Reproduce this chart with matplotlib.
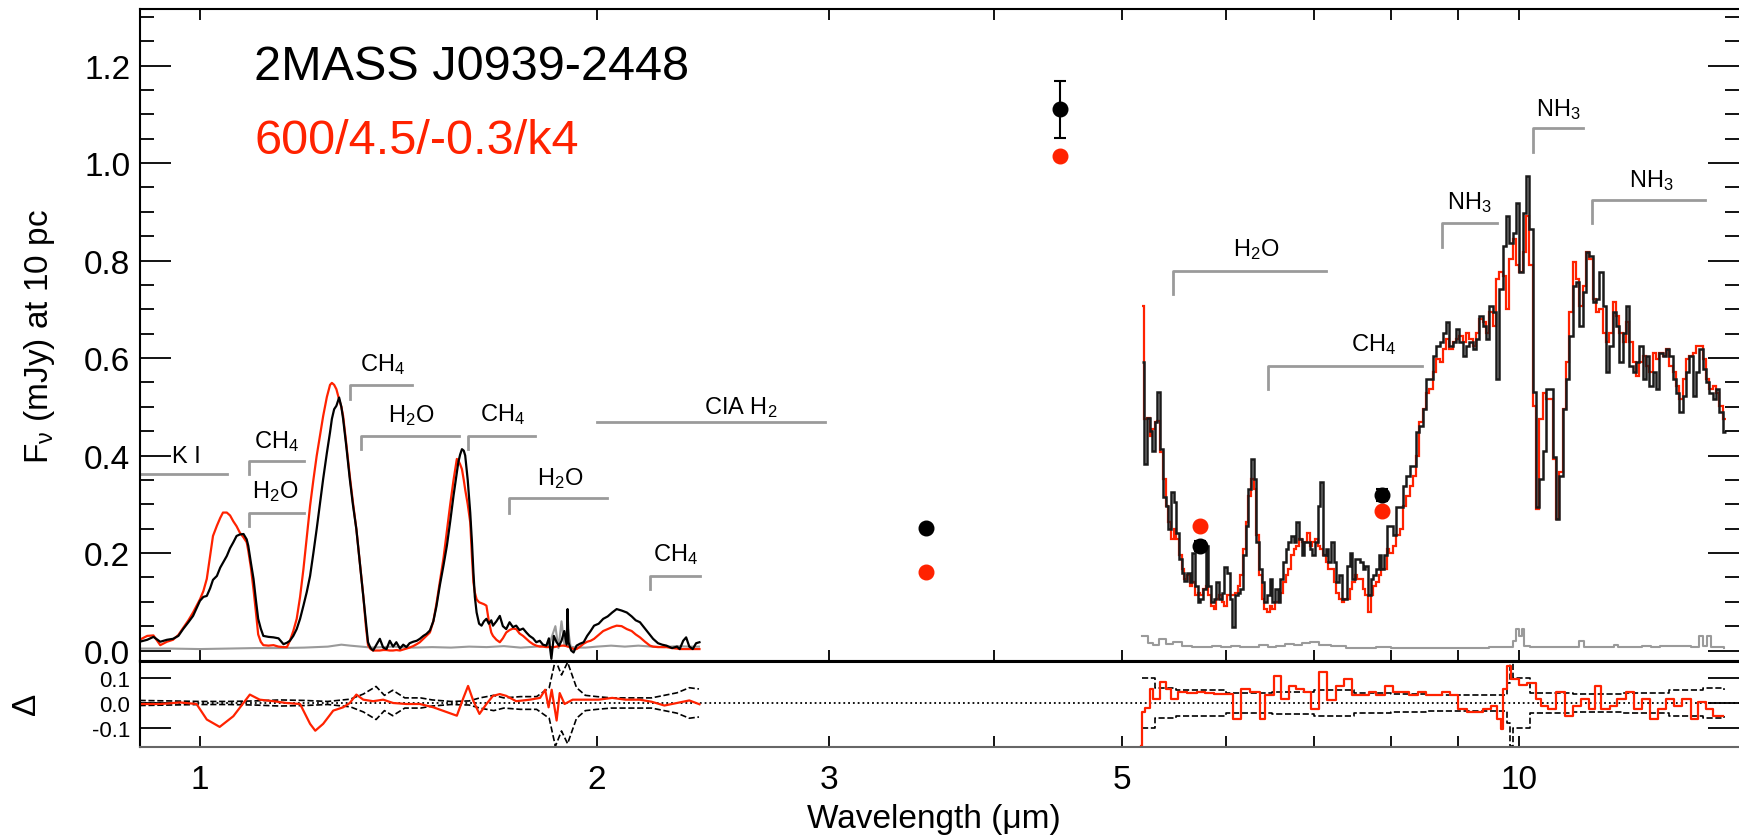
import matplotlib.pyplot as plt
import numpy as np
from matplotlib.ticker import FixedLocator, FixedFormatter, MultipleLocator, NullLocator

plt.rcParams['font.family'] = ['Liberation Sans', 'DejaVu Sans']
plt.rcParams['mathtext.fontset'] = 'custom'
plt.rcParams['mathtext.rm'] = 'Liberation Sans'
plt.rcParams['mathtext.it'] = 'Liberation Sans:italic'
plt.rcParams['mathtext.bf'] = 'Liberation Sans:bold'
plt.rcParams['mathtext.default'] = 'regular'

RED = '#ff2200'
GREY = '#9a9a9a'

# near-infrared prism spectrum (um, mJy) and best-fit model
nir_wave = [0.900, 0.912, 0.922, 0.933, 0.944, 0.954, 0.963, 0.971, 0.980, 0.988,
            1.000, 1.006, 1.012, 1.018, 1.023, 1.030, 1.036, 1.041, 1.048, 1.054,
            1.060, 1.066, 1.072, 1.079, 1.085, 1.088, 1.093, 1.098, 1.103, 1.107,
            1.112, 1.117, 1.127, 1.137, 1.147, 1.157, 1.164, 1.170, 1.177, 1.184,
            1.191, 1.198, 1.205, 1.212, 1.219, 1.226, 1.233, 1.240, 1.248, 1.255,
            1.259, 1.264, 1.269, 1.275, 1.280, 1.284, 1.291, 1.299, 1.306, 1.314,
            1.322, 1.330, 1.336, 1.341, 1.347, 1.353, 1.361, 1.369, 1.377, 1.385,
            1.393, 1.401, 1.409, 1.418, 1.426, 1.434, 1.442, 1.451, 1.460, 1.468,
            1.477, 1.485, 1.494, 1.503, 1.511, 1.520, 1.530, 1.539, 1.548, 1.557,
            1.566, 1.570, 1.575, 1.580, 1.585, 1.589, 1.596, 1.603, 1.608, 1.612,
            1.616, 1.621, 1.628, 1.635, 1.642, 1.649, 1.656, 1.663, 1.668, 1.678,
            1.688, 1.697, 1.707, 1.717, 1.727, 1.737, 1.747, 1.758, 1.768, 1.778,
            1.789, 1.799, 1.810, 1.820, 1.831, 1.839, 1.847, 1.855, 1.864, 1.872,
            1.880, 1.889, 1.897, 1.900, 1.903, 1.912, 1.920, 1.930, 1.942, 1.954,
            1.966, 1.978, 1.990, 2.006, 2.022, 2.038, 2.054, 2.070, 2.088, 2.107,
            2.125, 2.140, 2.156, 2.175, 2.194, 2.206, 2.225, 2.241, 2.258, 2.280,
            2.300, 2.311, 2.325, 2.337, 2.350, 2.364, 2.378, 2.392]
nir_data = [0.018, 0.022, 0.028, 0.018, 0.022, 0.024, 0.030, 0.044, 0.058, 0.071,
            0.102, 0.110, 0.112, 0.128, 0.145, 0.153, 0.170, 0.180, 0.194, 0.210,
            0.222, 0.235, 0.238, 0.239, 0.228, 0.215, 0.180, 0.147, 0.100, 0.065,
            0.045, 0.030, 0.028, 0.027, 0.025, 0.013, 0.016, 0.020, 0.030, 0.044,
            0.065, 0.092, 0.120, 0.153, 0.200, 0.249, 0.300, 0.352, 0.405, 0.448,
            0.475, 0.495, 0.502, 0.519, 0.500, 0.475, 0.420, 0.352, 0.300, 0.249,
            0.180, 0.112, 0.060, 0.017, 0.005, 0.000, 0.012, 0.024, 0.006, 0.003,
            0.020, 0.008, 0.017, 0.004, 0.012, 0.007, 0.015, 0.018, 0.020, 0.024,
            0.030, 0.034, 0.041, 0.060, 0.090, 0.133, 0.175, 0.215, 0.265, 0.318,
            0.365, 0.386, 0.402, 0.413, 0.410, 0.400, 0.350, 0.283, 0.220, 0.160,
            0.110, 0.078, 0.055, 0.051, 0.060, 0.065, 0.055, 0.062, 0.051, 0.060,
            0.071, 0.050, 0.044, 0.058, 0.048, 0.051, 0.042, 0.045, 0.037, 0.030,
            0.025, 0.017, 0.020, 0.012, 0.010, 0.025, -0.017, 0.030, 0.017, 0.010,
            0.020, 0.040, 0.012, 0.085, 0.017, 0.000, -0.004, 0.010, 0.014, 0.017,
            0.030, 0.040, 0.051, 0.055, 0.065, 0.070, 0.078, 0.085, 0.082, 0.078,
            0.070, 0.062, 0.058, 0.045, 0.032, 0.024, 0.015, 0.012, 0.010, 0.005,
            0.008, 0.003, 0.020, 0.027, 0.008, 0.003, 0.015, 0.017]
nir_model = [0.022, 0.030, 0.031, 0.011, 0.018, 0.022, 0.032, 0.046, 0.062, 0.078,
             0.105, 0.122, 0.147, 0.195, 0.235, 0.256, 0.272, 0.283, 0.283, 0.277,
             0.265, 0.255, 0.242, 0.232, 0.222, 0.205, 0.170, 0.125, 0.075, 0.033,
             0.018, 0.011, 0.010, 0.011, 0.008, 0.007, 0.007, 0.020, 0.040, 0.065,
             0.110, 0.167, 0.232, 0.297, 0.350, 0.399, 0.440, 0.481, 0.520, 0.545,
             0.549, 0.545, 0.536, 0.515, 0.500, 0.481, 0.425, 0.358, 0.305, 0.249,
             0.180, 0.112, 0.050, 0.011, 0.003, 0.000, 0.000, 0.000, 0.001, 0.001,
             0.000, 0.000, 0.001, 0.000, 0.002, 0.004, 0.006, 0.009, 0.013, 0.017,
             0.024, 0.030, 0.037, 0.060, 0.095, 0.140, 0.190, 0.245, 0.300, 0.350,
             0.393, 0.390, 0.382, 0.372, 0.350, 0.330, 0.300, 0.263, 0.190, 0.140,
             0.119, 0.105, 0.099, 0.097, 0.095, 0.092, 0.060, 0.037, 0.030, 0.022,
             0.017, 0.025, 0.037, 0.042, 0.045, 0.044, 0.035, 0.030, 0.024, 0.018,
             0.013, 0.010, 0.008, 0.008, 0.007, 0.007, 0.007, 0.007, 0.008, 0.009,
             0.010, 0.010, 0.009, 0.008, 0.008, 0.005, 0.003, 0.003, 0.008, 0.014,
             0.018, 0.020, 0.024, 0.032, 0.040, 0.044, 0.048, 0.051, 0.050, 0.044,
             0.040, 0.033, 0.027, 0.018, 0.010, 0.008, 0.007, 0.007, 0.007, 0.005,
             0.004, 0.003, 0.003, 0.003, 0.003, 0.003, 0.003, 0.003]

nir_noise_wave = [0.90, 0.95, 1.00, 1.05, 1.10, 1.15, 1.20, 1.25, 1.28, 1.30,
                  1.35, 1.40, 1.45, 1.50, 1.55, 1.60, 1.65, 1.70, 1.75, 1.80,
                  1.84, 1.86, 1.87, 1.88, 1.89, 1.90, 1.91, 1.93, 1.96, 2.00,
                  2.05, 2.10, 2.15, 2.20, 2.25, 2.30, 2.35, 2.39]
nir_noise = [0.004, 0.004, 0.003, 0.004, 0.005, 0.005, 0.006, 0.008, 0.012, 0.010,
             0.006, 0.008, 0.006, 0.007, 0.006, 0.008, 0.007, 0.009, 0.006, 0.008,
             0.012, 0.050, 0.005, 0.060, 0.010, 0.050, 0.008, 0.006, 0.006, 0.008,
             0.010, 0.008, 0.010, 0.008, 0.007, 0.009, 0.008, 0.008]

# mid-infrared IRS spectrum: bin edges (um), data and model per bin
mir_edges = [5.176, 5.200, 5.224, 5.249, 5.273, 5.298, 5.322, 5.347, 5.372, 5.397,
             5.423, 5.448, 5.473, 5.499, 5.525, 5.550, 5.576, 5.602, 5.629, 5.655,
             5.681, 5.708, 5.734, 5.761, 5.788, 5.815, 5.842, 5.869, 5.897, 5.924,
             5.952, 5.980, 6.008, 6.036, 6.064, 6.092, 6.121, 6.149, 6.178, 6.207,
             6.235, 6.264, 6.294, 6.323, 6.353, 6.382, 6.412, 6.442, 6.472, 6.502,
             6.532, 6.563, 6.593, 6.624, 6.655, 6.686, 6.717, 6.749, 6.780, 6.812,
             6.844, 6.876, 6.908, 6.940, 6.972, 7.005, 7.038, 7.070, 7.103, 7.137,
             7.170, 7.203, 7.237, 7.271, 7.305, 7.339, 7.373, 7.407, 7.442, 7.477,
             7.511, 7.546, 7.582, 7.617, 7.652, 7.688, 7.724, 7.760, 7.796, 7.833,
             7.869, 7.906, 7.943, 7.980,
             8.027, 8.073, 8.121, 8.168, 8.216, 8.264, 8.312, 8.360, 8.409, 8.458,
             8.507, 8.557, 8.607, 8.657, 8.708, 8.758, 8.810, 8.861, 8.913, 8.965,
             9.017, 9.070, 9.123, 9.176, 9.229, 9.283, 9.337, 9.392, 9.447, 9.502,
             9.557, 9.613, 9.669, 9.726, 9.782, 9.839, 9.897, 9.955, 10.013, 10.071,
             10.130, 10.189, 10.249, 10.309, 10.369, 10.429, 10.490, 10.551, 10.613, 10.674,
             10.737, 10.799, 10.862, 10.926, 10.990, 11.054, 11.118, 11.183, 11.248, 11.314,
             11.380, 11.446, 11.513, 11.580, 11.648, 11.716, 11.784, 11.853, 11.922, 11.991,
             12.061, 12.132, 12.203, 12.274, 12.345, 12.417, 12.490, 12.563, 12.636, 12.710,
             12.784, 12.859, 12.934, 13.009, 13.085, 13.162, 13.238, 13.316, 13.393, 13.471,
             13.550, 13.629, 13.709, 13.789, 13.869, 13.950, 14.032, 14.113, 14.196, 14.279,
             14.362]
mir_data = [0.591, 0.383, 0.478, 0.451, 0.410, 0.468, 0.530, 0.413, 0.314, 0.297,
            0.249, 0.325, 0.304, 0.242, 0.188, 0.160, 0.143, 0.160, 0.140, 0.201,
            0.133, 0.099, 0.106, 0.126, 0.215, 0.133, 0.099, 0.106, 0.140, 0.106,
            0.119, 0.171, 0.160, 0.106, 0.048, 0.113, 0.119, 0.126, 0.195, 0.256,
            0.331, 0.393, 0.352, 0.222, 0.167, 0.140, 0.099, 0.113, 0.147, 0.099,
            0.126, 0.099, 0.147, 0.181, 0.208, 0.222, 0.235, 0.222, 0.263, 0.229,
            0.195, 0.222, 0.222, 0.208, 0.195, 0.222, 0.297, 0.345, 0.195, 0.208,
            0.181, 0.222, 0.181, 0.140, 0.154, 0.106, 0.106, 0.174, 0.201, 0.147,
            0.188, 0.188, 0.181, 0.167, 0.174, 0.113, 0.147, 0.154, 0.167, 0.195,
            0.167, 0.195, 0.256,
            0.256, 0.236, 0.294, 0.294, 0.338, 0.359, 0.379, 0.379, 0.448, 0.461,
            0.495, 0.557, 0.557, 0.605, 0.625, 0.632, 0.652, 0.673, 0.625, 0.632,
            0.659, 0.632, 0.605, 0.625, 0.632, 0.618, 0.639, 0.687, 0.666, 0.639,
            0.707, 0.694, 0.557, 0.741, 0.830, 0.892, 0.837, 0.857, 0.919, 0.776,
            0.898, 0.974, 0.864, 0.530, 0.294, 0.352, 0.410, 0.536, 0.536, 0.396,
            0.270, 0.359, 0.495, 0.557, 0.646, 0.748, 0.755, 0.666, 0.735, 0.817,
            0.810, 0.714, 0.721, 0.776, 0.707, 0.571, 0.625, 0.694, 0.666, 0.591,
            0.652, 0.707, 0.584, 0.571, 0.591, 0.625, 0.557, 0.605, 0.543, 0.571,
            0.536, 0.611, 0.605, 0.618, 0.605, 0.557, 0.529, 0.489, 0.523, 0.571,
            0.605, 0.523, 0.571, 0.618, 0.577, 0.550, 0.529, 0.516, 0.536, 0.489,
            0.448]
mir_model = [0.707, 0.475, 0.478, 0.441, 0.455, 0.468, 0.471, 0.407, 0.352, 0.297,
             0.263, 0.229, 0.249, 0.229, 0.195, 0.167, 0.147, 0.154, 0.133, 0.140,
             0.113, 0.119, 0.113, 0.126, 0.133, 0.113, 0.092, 0.085, 0.106, 0.113,
             0.099, 0.092, 0.113, 0.113, 0.113, 0.119, 0.133, 0.154, 0.208, 0.263,
             0.318, 0.352, 0.331, 0.236, 0.154, 0.106, 0.085, 0.079, 0.092, 0.085,
             0.099, 0.099, 0.119, 0.140, 0.154, 0.167, 0.195, 0.208, 0.215, 0.229,
             0.222, 0.222, 0.242, 0.215, 0.222, 0.229, 0.215, 0.208, 0.195, 0.181,
             0.167, 0.167, 0.140, 0.119, 0.106, 0.099, 0.106, 0.106, 0.126, 0.140,
             0.154, 0.147, 0.147, 0.126, 0.113, 0.079, 0.113, 0.133, 0.140, 0.154,
             0.167, 0.167, 0.208,
             0.201, 0.215, 0.236, 0.249, 0.297, 0.317, 0.338, 0.359, 0.400, 0.468,
             0.495, 0.529, 0.536, 0.571, 0.598, 0.591, 0.618, 0.639, 0.618, 0.632,
             0.639, 0.646, 0.632, 0.652, 0.639, 0.625, 0.652, 0.680, 0.673, 0.652,
             0.694, 0.666, 0.762, 0.776, 0.769, 0.700, 0.803, 0.844, 0.790, 0.776,
             0.817, 0.892, 0.790, 0.502, 0.290, 0.475, 0.529, 0.516, 0.516, 0.393,
             0.270, 0.366, 0.495, 0.591, 0.694, 0.796, 0.762, 0.707, 0.748, 0.817,
             0.803, 0.721, 0.694, 0.700, 0.652, 0.632, 0.652, 0.714, 0.687, 0.652,
             0.632, 0.673, 0.632, 0.591, 0.564, 0.591, 0.605, 0.584, 0.571, 0.611,
             0.598, 0.611, 0.605, 0.618, 0.584, 0.571, 0.543, 0.516, 0.557, 0.598,
             0.605, 0.611, 0.625, 0.625, 0.598, 0.557, 0.536, 0.543, 0.529, 0.502,
             0.475]

mir_noise_wave = [5.18, 5.23, 5.28, 5.34, 5.40, 5.47, 5.55, 5.65, 5.75, 5.85,
                  5.95, 6.05, 6.15, 6.25, 6.35, 6.45, 6.55, 6.65, 6.75, 6.85,
                  6.95, 7.05, 7.20, 7.40, 7.60, 7.80, 8.00, 8.30, 8.60, 8.90,
                  9.20, 9.50, 9.80, 9.90, 9.95, 10.00, 10.05, 10.10, 10.20, 10.50,
                  10.80, 11.00, 11.10, 11.20, 11.50, 11.80, 11.90, 12.20, 12.40, 12.60,
                  12.80, 13.00, 13.50, 13.70, 13.80, 13.90, 14.00, 14.30]
mir_noise = [0.030, 0.015, 0.012, 0.024, 0.014, 0.018, 0.010, 0.008, 0.007, 0.009,
             0.007, 0.010, 0.007, 0.008, 0.012, 0.007, 0.010, 0.014, 0.011, 0.016,
             0.018, 0.012, 0.010, 0.006, 0.006, 0.007, 0.006, 0.006, 0.005, 0.006,
             0.006, 0.007, 0.007, 0.020, 0.045, 0.030, 0.045, 0.010, 0.007, 0.007,
             0.007, 0.008, 0.020, 0.008, 0.007, 0.012, 0.007, 0.008, 0.009, 0.007,
             0.010, 0.009, 0.008, 0.030, 0.010, 0.030, 0.008, 0.006]

# IRAC photometry and synthetic model photometry
phot_wave = [3.55, 4.49, 5.73, 7.87]
phot_flux = [0.251, 1.110, 0.214, 0.319]
phot_err = [0.005, 0.058, 0.010, 0.012]
phot_model = [0.161, 1.014, 0.255, 0.286]

# residuals (data - model) and +/- noise envelope
nir_res_wave = [0.900, 0.933, 0.966, 0.994, 1.012, 1.035, 1.060, 1.091, 1.110, 1.137,
                1.163, 1.191, 1.212, 1.223, 1.240, 1.262, 1.284, 1.299, 1.314, 1.330,
                1.353, 1.377, 1.401, 1.434, 1.468, 1.503, 1.539, 1.566, 1.584, 1.597,
                1.612, 1.629, 1.649, 1.668, 1.688, 1.707, 1.737, 1.779, 1.811, 1.827,
                1.838, 1.848, 1.864, 1.874, 1.890, 1.917, 1.962, 2.006, 2.054, 2.102,
                2.155, 2.200, 2.250, 2.300, 2.350, 2.392]
nir_res = [-0.004, -0.004, 0.002, -0.004, -0.065, -0.094, -0.052, 0.033, 0.013, 0.007,
           0.000, -0.004, -0.082, -0.109, -0.082, -0.030, -0.017, 0.000, 0.033, 0.013,
           0.007, 0.013, 0.000, -0.004, -0.004, -0.017, -0.036, -0.050, 0.020, 0.067,
           0.007, -0.043, -0.004, 0.028, 0.035, 0.028, 0.007, 0.013, 0.020, 0.052,
           -0.017, 0.052, -0.069, 0.039, -0.004, 0.013, 0.013, 0.013, 0.020, 0.013,
           0.013, 0.005, -0.010, 0.000, 0.010, -0.005]
nir_sig_wave = [0.90, 0.95, 1.00, 1.05, 1.10, 1.15, 1.20, 1.25, 1.30, 1.33,
                1.36, 1.38, 1.40, 1.43, 1.47, 1.50, 1.55, 1.60, 1.63, 1.67,
                1.70, 1.75, 1.80, 1.84, 1.86, 1.88, 1.90, 1.93, 1.96, 2.00,
                2.05, 2.10, 2.20, 2.30, 2.35, 2.39]
nir_sig = [0.010, 0.008, 0.006, 0.006, 0.008, 0.012, 0.010, 0.006, 0.015, 0.035,
           0.065, 0.030, 0.050, 0.020, 0.020, 0.012, 0.006, 0.008, 0.020, 0.030,
           0.020, 0.025, 0.025, 0.060, 0.170, 0.110, 0.160, 0.060, 0.030, 0.025,
           0.020, 0.020, 0.020, 0.040, 0.060, 0.055]

mir_res_wave = [5.17, 5.18, 5.21, 5.25, 5.28, 5.35, 5.40, 5.45, 5.52, 5.60,
                5.70, 5.78, 5.87, 6.07, 6.16, 6.25, 6.36, 6.42, 6.52, 6.60,
                6.70, 6.78, 6.87, 6.96, 7.06, 7.16, 7.27, 7.37, 7.48, 7.59,
                7.70, 7.80, 7.92, 8.03, 8.15, 8.26, 8.38, 8.50, 8.62, 8.75,
                8.87, 9.00, 9.13, 9.26, 9.39, 9.53, 9.62, 9.70, 9.73, 9.80,
                9.87, 10.00, 10.15, 10.30, 10.40, 10.52, 10.68, 10.84, 11.00, 11.15,
                11.30, 11.42, 11.55, 11.72, 11.88, 12.05, 12.22, 12.40, 12.57, 12.76,
                12.94, 13.12, 13.30, 13.50, 13.68, 13.86, 14.05, 14.29]
mir_res = [-0.170, -0.036, -0.020, 0.055, 0.016, 0.081, 0.055, 0.016, 0.042, 0.040,
           0.042, 0.040, 0.035, -0.063, 0.055, 0.042, -0.063, 0.030, 0.107, 0.016,
           0.068, 0.055, 0.042, -0.024, 0.120, 0.010, 0.068, 0.094, 0.030, 0.030,
           0.042, 0.030, 0.068, 0.042, 0.042, 0.030, 0.042, 0.030, 0.030, 0.042,
           0.030, -0.024, -0.036, -0.036, -0.024, -0.011, -0.063, -0.102, 0.055, 0.146,
           0.094, 0.070, 0.080, 0.016, -0.011, -0.024, 0.042, -0.050, -0.011, 0.016,
           -0.024, 0.068, -0.024, -0.011, 0.016, 0.042, -0.024, 0.016, -0.063, -0.024,
           0.016, -0.011, 0.016, -0.063, 0.005, -0.024, -0.050, -0.050]
mir_sig_wave = [5.18, 5.30, 5.50, 6.00, 6.50, 7.00, 7.50, 8.00, 8.50, 9.00,
                9.50, 9.80, 9.85, 9.90, 10.20, 11.00, 12.00, 13.00, 13.80, 14.30]
mir_sig = [0.100, 0.060, 0.050, 0.040, 0.045, 0.050, 0.040, 0.035, 0.030, 0.030,
           0.030, 0.080, 0.170, 0.100, 0.040, 0.035, 0.040, 0.050, 0.060, 0.050]

# absorption band markers: label, start, end, bar level, tick bottom, label x, label y
bands = [
    ('K I', 0.900, 1.048, 0.362, None, 0.976, 0.400),
    ('CH$_4$', 1.090, 1.199, 0.389, 0.362, 1.143, 0.430),
    ('H$_2$O', 1.090, 1.199, 0.283, 0.256, 1.140, 0.328),
    ('CH$_4$', 1.299, 1.447, 0.545, 0.516, 1.376, 0.588),
    ('H$_2$O', 1.325, 1.571, 0.441, 0.413, 1.445, 0.485),
    ('CH$_4$', 1.597, 1.795, 0.441, 0.413, 1.696, 0.487),
    ('H$_2$O', 1.716, 2.034, 0.312, 0.283, 1.875, 0.355),
    ('CH$_4$', 2.194, 2.394, 0.153, 0.126, 2.293, 0.198),
    ('CIA H$_2$', 2.000, 2.980, 0.468, None, 2.570, 0.500),
    ('H$_2$O', 5.47, 7.14, 0.779, 0.731, 6.32, 0.824),
    ('CH$_4$', 6.46, 8.44, 0.584, 0.536, 7.76, 0.629),
    ('NH$_3$', 8.74, 9.62, 0.878, 0.827, 9.17, 0.920),
    ('NH$_3$', 10.26, 11.18, 1.071, 1.023, 10.72, 1.112),
    ('NH$_3$', 11.37, 13.84, 0.925, 0.877, 12.61, 0.967),
]

W, H = 1739, 837
fig = plt.figure(figsize=(W / 100, H / 100), dpi=100)
ax = fig.add_axes([140 / W, 1 - 662 / H, 1 - 140 / W, 652 / H])
rx = fig.add_axes([140 / W, 1 - 748 / H, 1 - 140 / W, 86 / H])

# main panel
ax.plot(nir_noise_wave, nir_noise, color=GREY, lw=1.5)
ax.step(mir_noise_wave, mir_noise, where='post', color=GREY, lw=1.5)
ax.plot(nir_wave, nir_model, color=RED, lw=1.6)
ax.plot(nir_wave, nir_data, color='black', lw=1.6)
ax.stairs(mir_model, mir_edges, color=RED, lw=1.6, baseline=None)
ax.stairs(mir_data, mir_edges, color='#1a1a1a', lw=1.8, baseline=None)
ax.errorbar(phot_wave, phot_flux, yerr=phot_err, fmt='o', color='black', ms=10.5,
            capsize=4, elinewidth=1.5, capthick=1.5, zorder=5)
ax.plot(phot_wave, phot_model, 'o', color=RED, ms=10.5, zorder=5)

for name, x0, x1, ytop, ybot, tx, ty in bands:
    if ybot is None:
        ax.plot([x0, x1], [ytop, ytop], color=GREY, lw=2)
    else:
        ax.plot([x0, x0, x1], [ybot, ytop, ytop], color=GREY, lw=2)
    ax.text(tx, ty, name, fontsize=17, ha='center', va='center')

ax.text(1.099, 1.199, '2MASS J0939-2448', fontsize=35, ha='left', va='center')
ax.text(1.099, 1.047, '600/4.5/-0.3/k4', fontsize=35, ha='left', va='center', color=RED)

# residual panel
rx.axhline(0, color='black', ls=':', lw=1.3)
for s in (1, -1):
    rx.plot(nir_sig_wave, s * np.array(nir_sig), color='black', ls='--', lw=1.2)
    rx.step(mir_sig_wave, s * np.array(mir_sig), where='post', color='black', ls='--', lw=1.2)
rx.plot(nir_res_wave, nir_res, color=RED, lw=1.6)
rx.step(mir_res_wave, mir_res, where='post', color=RED, lw=1.6)

xt = [1, 2, 3, 4, 5, 6, 7, 8, 9, 10]
xl = ['1', '2', '3', '', '5', '', '', '', '', '10']
for a in (ax, rx):
    a.set_xscale('log')
    a.set_xlim(0.9006, 14.69)
    a.xaxis.set_major_locator(FixedLocator(xt))
    a.xaxis.set_minor_locator(NullLocator())
    a.spines['right'].set_visible(False)
    for sp in ('left', 'top', 'bottom'):
        a.spines[sp].set_linewidth(1.5)
    a.tick_params(axis='x', which='major', direction='in', length=8, width=1.3,
                  top=True, labelsize=24, pad=12)
    a.tick_params(axis='y', which='both', direction='in', left=True, right=True,
                  labelsize=24, pad=7, width=1.3)
    a.tick_params(axis='y', which='major', length=22)
    a.tick_params(axis='y', which='minor', length=10)

ax.xaxis.set_major_formatter(FixedFormatter([''] * len(xt)))
rx.xaxis.set_major_formatter(FixedFormatter(xl))
ax.tick_params(labelbottom=False)
ax.spines['bottom'].set_linewidth(2.2)
rx.spines['top'].set_linewidth(2.2)
rx.spines['bottom'].set_color('#666666')
rx.tick_params(axis='x', top=False)

ax.set_ylim(-0.0215, 1.316)
ax.yaxis.set_major_locator(FixedLocator([0.0, 0.2, 0.4, 0.6, 0.8, 1.0, 1.2]))
ax.yaxis.set_major_formatter(FixedFormatter(['0.0', '0.2', '0.4', '0.6', '0.8', '1.0', '1.2']))
ax.yaxis.set_minor_locator(MultipleLocator(0.05))

rx.set_ylim(-0.173, 0.165)
rx.yaxis.set_major_locator(FixedLocator([-0.1, 0.0, 0.1]))
rx.yaxis.set_major_formatter(FixedFormatter(['-0.1', '0.0', '0.1']))
rx.yaxis.set_minor_locator(NullLocator())
rx.tick_params(axis='y', labelsize=16)

fig.text(40 / W, 1 - 336 / H, 'F$_ν$ (mJy) at 10 pc', rotation=90, fontsize=24,
         ha='center', va='center')
fig.text(27 / W, 1 - 704 / H, 'Δ', rotation=90, fontsize=24, ha='center', va='center')
fig.text(934 / W, 1 - 820 / H, 'Wavelength (μm)', fontsize=24, ha='center', va='center')

fig.savefig('out.png', dpi=100)
